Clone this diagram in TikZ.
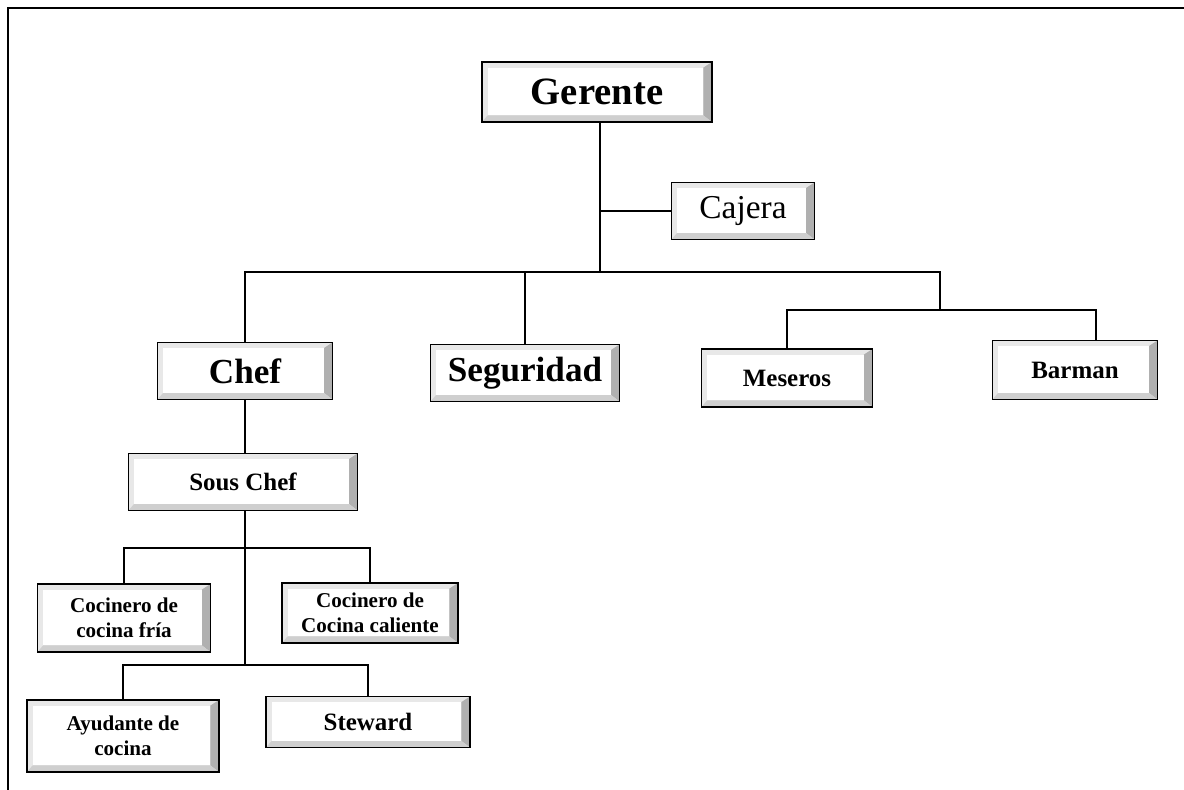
\documentclass[tikz,border=0pt]{standalone}
\usepackage{fontspec}
\setmainfont{Liberation Serif}
\usepackage{tikz}
\usepackage{xcolor}

\begin{document}
\begin{tikzpicture}[x=0.02cm, y=-0.02cm, line width=0.7pt]
\tikzset{orgbox/.style={draw=black, line width=0.8pt, fill=gray!18, align=center, inner sep=0pt,
  path picture={
    \coordinate (sw) at (path picture bounding box.south west);
    \coordinate (ne) at (path picture bounding box.north east);
    \coordinate (swi) at ([shift={(0.11cm,0.13cm)}]sw);
    \coordinate (nei) at ([shift={(-0.17cm,-0.11cm)}]ne);
    \fill[gray!62] (sw -| ne) -- (ne) -- (nei) -- (nei |- swi) -- cycle;
    \fill[gray!38] (sw) -- (sw -| ne) -- (nei |- swi) -- (swi) -- cycle;
    \fill[white] (swi) rectangle (nei);
  }}}
\tikzset{big/.style={font=\fontsize{22}{24}\selectfont\bfseries}}
\tikzset{mid/.style={font=\fontsize{20}{22}\selectfont\bfseries}}
\tikzset{small/.style={font=\fontsize{14.2}{16}\selectfont\bfseries}}
\tikzset{tiny/.style={font=\fontsize{12}{14.5}\selectfont\bfseries}}
\useasboundingbox (0,0) rectangle (1184,790);
\draw[line width=1.1pt] (8,790) -- (8,8) -- (1184,8);
% top level
\node[orgbox, big, minimum width=4.6cm, minimum height=1.2cm] (ger) at (597,92) {Gerente};
\node[orgbox, font=\fontsize{19}{22}\selectfont, minimum width=2.86cm, minimum height=1.14cm] (caj) at (743,211) {Cajera};
% second level
\node[orgbox, mid, minimum width=3.5cm, minimum height=1.14cm] (chef) at (245,371) {Chef};
\node[orgbox, mid, minimum width=3.78cm, minimum height=1.14cm] (seg) at (525,373) {Seguridad};
\node[orgbox, small, minimum width=3.42cm, minimum height=1.16cm] (mes) at (787,378) {Meseros};
\node[orgbox, small, minimum width=3.3cm, minimum height=1.18cm] (bar) at (1075,370) {Barman};
% kitchen
\node[orgbox, small, minimum width=4.58cm, minimum height=1.14cm] (sous) at (243,482) {Sous Chef};
\node[orgbox, tiny, minimum width=3.46cm, minimum height=1.36cm] (cfria) at (124,618) {Cocinero de\\cocina fría};
\node[orgbox, tiny, minimum width=3.52cm, minimum height=1.2cm] (ccal) at (370,613) {Cocinero de\\Cocina caliente};
\node[orgbox, tiny, minimum width=3.84cm, minimum height=1.44cm] (ayu) at (123,736) {Ayudante de\\cocina};
\node[orgbox, small, minimum width=4.08cm, minimum height=1.02cm] (stew) at (368,722) {Steward};
% connectors
\coordinate (mainbar) at (600,272);
\coordinate (mesjoin) at (940,272);
\coordinate (mesbar) at (940,310);
\coordinate (kbar1) at (245,548);
\coordinate (kbar2) at (245,665);
\draw (ger.south -| mainbar) -- (mainbar);
\draw (caj.west -| mainbar) -- (caj.west);
\draw (chef.north) |- (mesjoin) -- (mesbar);
\draw (seg.north) -- (seg.north |- mainbar);
\draw (mes.north) |- (mesbar) -| ([xshift=0.42cm]bar.north);
\draw (chef.south) -- (chef.south |- sous.north);
\draw (sous.south -| kbar2) -- (kbar2);
\draw (cfria.north) |- (kbar1) -| (ccal.north);
\draw (ayu.north) |- (kbar2) -| (stew.north);
\end{tikzpicture}
\end{document}
